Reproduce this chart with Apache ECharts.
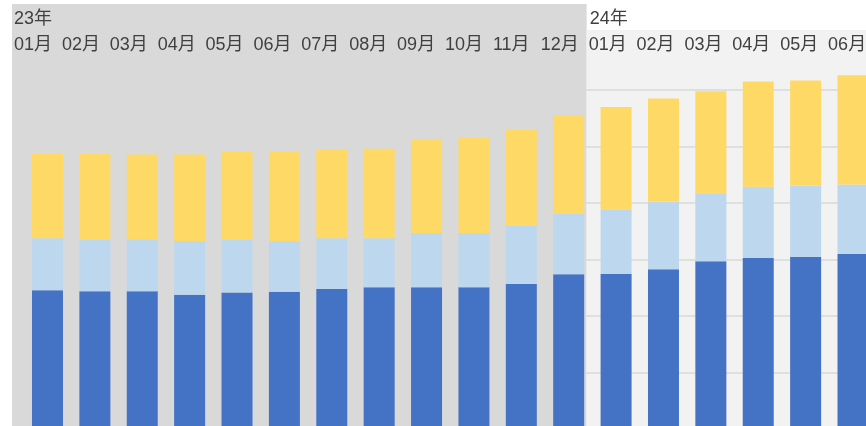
<!DOCTYPE html>
<html>
<head>
<meta charset="utf-8">
<script src="https://cdn.jsdelivr.net/npm/echarts@6/dist/echarts.min.js"></script>
<style>
html,body{margin:0;padding:0;background:#fff;}
#main{width:866px;height:426px;}
</style>
</head>
<body>
<div id="main"></div>
<script>
// ---- data ----
var yearLabels = ['23年', '24年'];
var monthLabels = ['01月','02月','03月','04月','05月','06月','07月','08月','09月','10月','11月','12月',
                   '01月','02月','03月','04月','05月','06月'];
var seriesA = [246,244,244,238,242,243,248,251,251,251,257,274,275,283,297,303,305,310]; // dark blue (bottom)
var seriesB = [92,91,92,95,93,90,90,87,96,96,103,107,114,120,119,126,126,123];         // light blue (middle)
var seriesC = [150,152,150,153,156,158,156,158,165,169,170,175,181,182,182,186,186,193]; // yellow (top)
var monthsIn23 = 12;

var font = '"Liberation Sans", "Noto Sans CJK JP", sans-serif';
var textColor = '#404040';

var chart = echarts.init(document.getElementById('main'), null, {renderer: 'canvas'});

var headerCats = monthLabels.concat(['']);
var n = monthLabels.length;

var option = {
  animation: false,
  backgroundColor: '#ffffff',
  grid: [
    {left: 23.8, width: 852.9, top: 33.5, height: 395.7, outerBoundsMode: 'none', containLabel: false},   // main plot
    {left: 12, width: 862, top: 4, height: 422, outerBoundsMode: 'none', containLabel: false}             // header / background
  ],
  xAxis: [
    {
      type: 'category', gridIndex: 0, data: monthLabels,
      axisLine: {show: false}, axisTick: {show: false}, axisLabel: {show: false},
      splitLine: {show: false}
    },
    {
      type: 'category', gridIndex: 1, data: headerCats, boundaryGap: false,
      position: 'top', z: 5,
      axisLine: {show: false}, axisTick: {show: false}, splitLine: {show: false},
      axisLabel: {
        show: true, inside: true, interval: 0, align: 'left', margin: 32,
        padding: [0, 0, 0, 2],
        color: textColor, fontSize: 18, fontFamily: font
      }
    }
  ],
  yAxis: [
    {
      type: 'value', gridIndex: 0, min: 0, max: 700, interval: 100, z: 1.5,
      axisLine: {show: false}, axisTick: {show: false}, axisLabel: {show: false},
      splitLine: {show: true, showMaxLine: false, showMinLine: false, lineStyle: {color: '#d9d9d9', width: 1.5}}
    },
    {
      type: 'value', gridIndex: 1, min: 0, max: 422, inverse: true, show: false
    }
  ],
  series: [
    {
      type: 'line', xAxisIndex: 1, yAxisIndex: 1, data: [], silent: true,
      markArea: {
        silent: true,
        data: [
          [
            {name: yearLabels[0], xAxis: 0, yAxis: 0,
             itemStyle: {color: '#d9d9d9'},
             label: {show: true, position: [2, 6], color: textColor, fontSize: 18, fontFamily: font}},
            {xAxis: monthsIn23, yAxis: 422}
          ],
          [
            {name: yearLabels[1], xAxis: monthsIn23, yAxis: 26,
             itemStyle: {color: '#f2f2f2'},
             label: {show: true, position: [3, -20], color: textColor, fontSize: 18, fontFamily: font}},
            {xAxis: n, yAxis: 422}
          ]
        ]
      }
    },
    {
      type: 'bar', stack: 'total', xAxisIndex: 0, yAxisIndex: 0, data: seriesA,
      barWidth: 31, itemStyle: {color: '#4472c4'}
    },
    {
      type: 'bar', stack: 'total', xAxisIndex: 0, yAxisIndex: 0, data: seriesB,
      barWidth: 31, itemStyle: {color: '#bdd7ee'}
    },
    {
      type: 'bar', stack: 'total', xAxisIndex: 0, yAxisIndex: 0, data: seriesC,
      barWidth: 31, itemStyle: {color: '#ffd966'}
    }
  ]
};
chart.setOption(option);
</script>
</body>
</html>
